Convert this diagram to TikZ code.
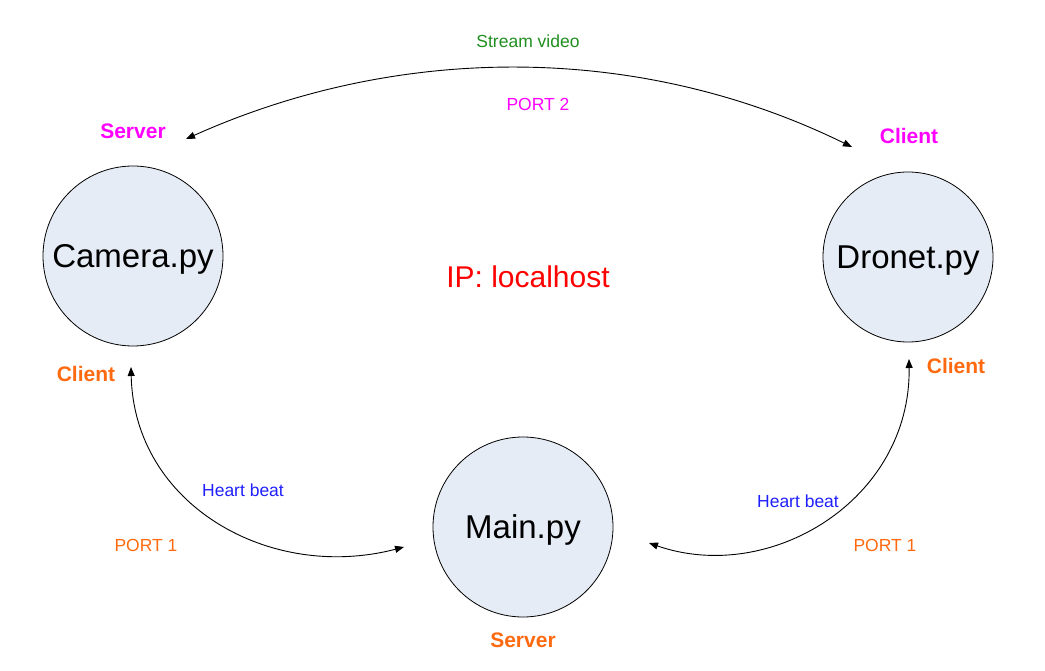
\documentclass[tikz,border=0pt]{standalone}
\usepackage{fontspec}
\setmainfont{Liberation Sans}
\usetikzlibrary{arrows.meta}
\definecolor{nodefill}{HTML}{E6ECF6}
\definecolor{rolemag}{HTML}{FF00FF}
\definecolor{roleorange}{HTML}{FF6A10}
\definecolor{hbblue}{HTML}{2020FF}
\definecolor{streamgreen}{HTML}{1F8F1F}
\definecolor{ipred}{HTML}{FF0000}
\begin{document}
\begin{tikzpicture}[x=1pt,y=-1pt,
  proc/.style={circle, draw=black, fill=nodefill, line width=0.8pt, minimum size=180pt, inner sep=0pt, text depth=0pt, font=\fontsize{33}{36}\selectfont},
  conn/.style={line width=0.9pt, {Triangle[length=9pt,width=7pt]}-{Triangle[length=9pt,width=7pt]}},
  lbl/.style={font=\fontsize{17.5}{20}\selectfont},
  role/.style={font=\bfseries\fontsize{21}{24}\selectfont}]
\useasboundingbox (0,0) rectangle (1045,671);
\node[proc] (cam) at (133,256) {Camera.py};
\node[proc, minimum size=170pt] (dro) at (908,257) {Dronet.py};
\node[proc] (main) at (523,527) {Main.py};

\node[role, text=rolemag] (srvtop) at (133,131) {Server};
\node[role, text=rolemag] (clitop) at (909,136) {Client};
\node[lbl, text=streamgreen] (stream) at (528,41) {Stream video};
\node[lbl, text=rolemag] (port2) at (538,104) {PORT 2};
\node[font=\fontsize{30}{34}\selectfont, text=ipred] (ip) at (528,277) {IP: localhost};
\node[role, text=roleorange] (clil) at (86,374) {Client};
\node[role, text=roleorange] (clir) at (956,366) {Client};
\node[lbl, text=hbblue] (hbl) at (243,490) {Heart beat};
\node[lbl, text=hbblue] (hbr) at (798,501) {Heart beat};
\node[lbl, text=roleorange] (p1l) at (146,545) {PORT 1};
\node[lbl, text=roleorange] (p1r) at (885,545) {PORT 1};
\node[role, text=roleorange] (srvmain) at (523,640) {Server};

\coordinate (camtop) at (186,139);
\coordinate (drotop) at (852,147);
\coordinate (cambot) at (131,367);
\coordinate (mainl) at (404,547);
\coordinate (drobot) at (909,359);
\coordinate (mainr) at (649,543);

\draw[conn] (camtop) .. controls (400,43) and (640,43) .. (drotop);
\draw[conn] (cambot) .. controls (134,505) and (270,582) .. (mainl);
\draw[conn] (drobot) .. controls (911,500) and (770,585) .. (mainr);
\end{tikzpicture}
\end{document}
